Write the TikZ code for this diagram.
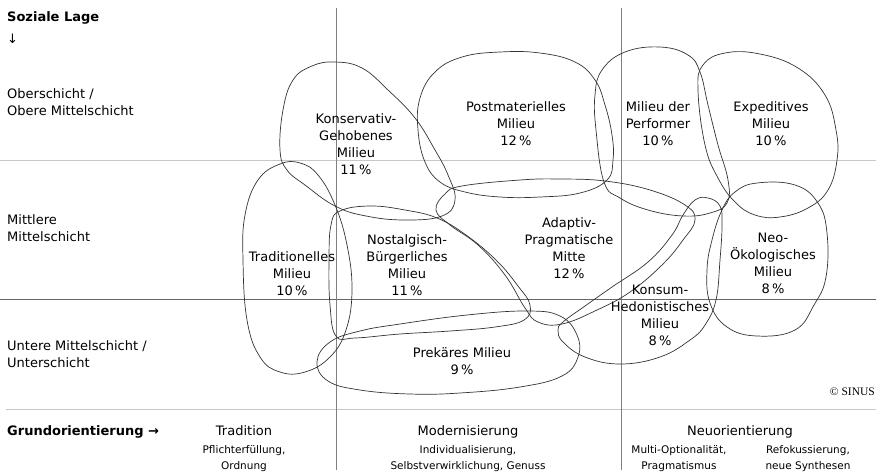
\documentclass[tikz,border=0pt]{standalone}
\usepackage{fontspec}
\setmainfont{DejaVu Sans}
\newfontfamily\copyfont{Liberation Serif}
\usepackage{tikz}
\usetikzlibrary{positioning}
\newcommand\labelsize{\fontsize{13}{17}\selectfont}
\newcommand\notesize{\fontsize{10.5}{16}\selectfont}
\tikzset{
  milieu/.style={draw=black!80, line width=0.7pt},
  milieutext/.style={align=center, anchor=north, inner sep=0pt, font=\labelsize},
  axistext/.style={align=left, anchor=north west, inner sep=0pt, font=\labelsize},
  headtext/.style={anchor=base, inner sep=0pt, font=\labelsize},
  notetext/.style={align=center, anchor=north, inner sep=0pt, font=\notesize},
  lightrule/.style={draw=black!22, line width=0.8pt},
  darkrule/.style={draw=black!60, line width=0.8pt},
  colrule/.style={draw=black!50, line width=0.8pt}
}

\begin{document}
\begin{tikzpicture}[x=1pt, y=-1pt]
\useasboundingbox (0,0) rectangle (878,475);

% raster
\draw[lightrule] (0,160) -- (876,160);
\draw[darkrule] (0,299) -- (876,299);
\draw[lightrule] (6,409) -- (876,409);
\draw[colrule] (336,8) -- (336,470);
\draw[colrule] (621,8) -- (621,470);

% axes
\node[headtext, anchor=base west, font=\labelsize\bfseries] (lage) at (7,21) {Soziale Lage};
\node[headtext, anchor=base west] (lagearrow) at (7,43) {↓};
\node[axistext] (ober) at (7,88) {Oberschicht /\\Obere Mittelschicht};
\node[axistext] (mitte) at (7,214) {Mittlere\\Mittelschicht};
\node[axistext] (unten) at (7,340) {Untere Mittelschicht /\\Unterschicht};
\node[headtext, anchor=base west, font=\labelsize\bfseries] (grund) at (7,435) {Grundorientierung →};

\node[headtext] (trad) at (244,435) {Tradition};
\node[headtext] (modern) at (468,435) {Modernisierung};
\node[headtext] (neu) at (740,435) {Neuorientierung};
\node[notetext] (tradnote) at (244,445) {Pflichterfüllung,\\Ordnung};
\node[notetext] (modernnote) at (468,445) {Individualisierung,\\Selbstverwirklichung, Genuss};
\node[notetext] (multinote) at (679,445) {Multi-Optionalität,\\Pragmatismus};
\node[notetext] (refonote) at (808,445) {Refokussierung,\\neue Synthesen};
\node[anchor=base east, inner sep=0pt, font=\copyfont\fontsize{11.5}{12}\selectfont] (sinus) at (875,395) {© SINUS};

% milieus
\draw[milieu] plot[smooth cycle, tension=0.7] coordinates {(280,150) (283,110) (293,80) (312,66) (335,62) (362,68) (388,90) (415,118) (435,150) (448,175) (455,200) (442,216) (405,220) (366,216) (335,206) (305,185) (287,170)};
\draw[milieu] plot[smooth cycle, tension=0.7] coordinates {(418,130) (420,98) (435,72) (462,57) (500,52) (540,53) (575,62) (595,80) (605,105) (612,135) (613,160) (607,180) (580,193) (540,197) (500,197) (465,192) (440,182) (425,162)};
\draw[milieu] plot[smooth cycle, tension=0.7] coordinates {(596,130) (595,95) (602,70) (625,52) (660,47) (688,55) (700,72) (708,105) (718,145) (728,180) (727,203) (710,213) (683,216) (648,210) (620,198) (604,182)};
\draw[milieu] plot[smooth cycle, tension=0.7] coordinates {(698,90) (703,65) (725,53) (760,54) (798,68) (825,95) (836,130) (837,160) (828,190) (808,208) (780,217) (755,215) (735,202) (718,178) (705,145)};
\draw[milieu] plot[smooth cycle, tension=0.7] coordinates {(243,260) (245,215) (258,180) (280,164) (300,163) (318,175) (335,205) (347,245) (352,290) (346,330) (330,357) (305,372) (280,372) (260,357) (247,320)};
\draw[milieu] plot[smooth cycle, tension=0.7] coordinates {(329,260) (331,225) (340,211) (370,206) (405,210) (437,218) (466,235) (496,260) (518,286) (530,305) (524,320) (495,327) (450,331) (400,334) (355,338) (336,336) (330,305)};
\draw[milieu] plot[smooth cycle, tension=0.7] coordinates {(436,210) (445,194) (462,186) (520,180) (560,179) (605,181) (650,190) (685,205) (695,220) (683,240) (662,265) (630,292) (597,310) (562,324) (538,322) (525,308) (505,275) (478,245) (450,225)};
\draw[milieu] plot[smooth cycle, tension=0.7] coordinates {(563,322) (585,306) (612,287) (648,262) (672,235) (683,215) (695,200) (708,198) (720,206) (722,225) (720,260) (716,300) (705,325) (690,340) (660,357) (620,364) (585,357) (563,342) (558,330)};
\draw[milieu] plot[smooth cycle, tension=0.7] coordinates {(722,210) (735,192) (757,183) (795,185) (818,203) (827,233) (826,277) (814,305) (795,330) (757,336) (727,327) (710,303) (707,270) (712,240)};
\draw[milieu] plot[smooth cycle, tension=0.7] coordinates {(317,362) (330,342) (360,331) (400,324) (467,315) (527,311) (560,316) (577,335) (578,357) (562,376) (520,387) (460,393) (410,394) (360,390) (328,381)};

% names and shares
\node[milieutext] (konserv) at (356,113) {Konservativ-\\Gehobenes\\Milieu\\11\,\%};
\node[milieutext] (postmat) at (516,101) {Postmaterielles\\Milieu\\12\,\%};
\node[milieutext] (perform) at (658,101) {Milieu der\\Performer\\10\,\%};
\node[milieutext] (exped) at (771,101) {Expeditives\\Milieu\\10\,\%};
\node[milieutext] (tradit) at (292,251) {Traditionelles\\Milieu\\10\,\%};
\node[milieutext] (nostalg) at (407,234) {Nostalgisch-\\Bürgerliches\\Milieu\\11\,\%};
\node[milieutext] (adapt) at (569,217) {Adaptiv-\\Pragmatische\\Mitte\\12\,\%};
\node[milieutext] (konsum) at (660,285) {Konsum-\\Hedonistisches\\Milieu\\8\,\%};
\node[milieutext] (neooeko) at (773,233) {Neo-\\Ökologisches\\Milieu\\8\,\%};
\node[milieutext] (prekaer) at (462,347) {Prekäres Milieu\\9\,\%};
\end{tikzpicture}
\end{document}
